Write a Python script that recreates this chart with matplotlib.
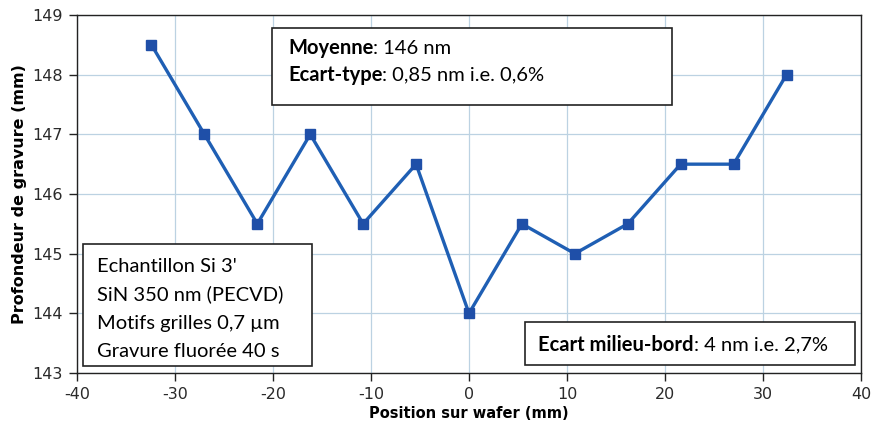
import matplotlib
matplotlib.use("Agg")
import matplotlib.pyplot as plt

plt.rcParams['font.family'] = ['Lato', 'DejaVu Sans']
plt.rcParams['axes.unicode_minus'] = False

positions = [-32.4, -27.0, -21.6, -16.2, -10.8, -5.4, 0.0, 5.4, 10.8, 16.2, 21.6, 27.0, 32.4]
depths = [148.5, 147.0, 145.5, 147.0, 145.5, 146.5, 144.0, 145.5, 145.0, 145.5, 146.5, 146.5, 148.0]
xticks = [-40, -30, -20, -10, 0, 10, 20, 30, 40]
yticks = [143, 144, 145, 146, 147, 148, 149]

fig = plt.figure(figsize=(8.73, 4.28), dpi=100)
ax = fig.add_axes([77/873, 1 - 373/428, (861-77)/873, (373-15)/428])
ax.set_xlim(-40, 40)
ax.set_ylim(143, 149)
ax.set_xticks(xticks)
ax.set_yticks(yticks)
ax.grid(True, color='#bcd2e2', linewidth=0.9)
ax.set_axisbelow(True)
for s in ax.spines.values():
    s.set_color('#222222')
    s.set_linewidth(1.0)
ax.tick_params(direction='out', length=6, width=1, pad=4, colors='#222222')
for lab in ax.get_xticklabels() + ax.get_yticklabels():
    lab.set_fontfamily('DejaVu Sans')
    lab.set_fontsize(11.5)
    lab.set_color('#2a2a2a')
ax.plot(positions, depths, color='#1f5fb4', linewidth=2.4, marker='s', markersize=7,
        markerfacecolor='#1f4fa8', markeredgecolor='#1f4fa8')
ax.set_xlabel('Position sur wafer (mm)', fontsize=10.5, fontweight='bold',
              family='DejaVu Sans', labelpad=3)
ax.set_ylabel('Profondeur de gravure (mm)', fontsize=11.5, fontweight='bold',
              family='DejaVu Sans', labelpad=4)

FS = 14.5

def box(x0, y0, x1, y1):
    r = plt.Rectangle((x0/873, 1 - y1/428), (x1-x0)/873, (y1-y0)/428, transform=fig.transFigure,
                      facecolor='white', edgecolor='#222222', linewidth=1.2, zorder=5)
    fig.add_artist(r)

def bold_then_normal(x, y, bold, normal):
    t = fig.text(x/873, 1 - y/428, bold, fontsize=FS, fontweight='bold', va='center', zorder=6)
    fig.canvas.draw()
    bb = t.get_window_extent()
    fig.text(bb.x1/873, 1 - y/428, normal, fontsize=FS, va='center', zorder=6)

box(272, 28, 672, 105)
bold_then_normal(288, 48, 'Moyenne', ': 146 nm')
bold_then_normal(288, 75, 'Ecart-type', ': 0,85 nm i.e. 0,6%')

box(83, 244, 312, 366)
lines = ["Echantillon Si 3'", "SiN 350 nm (PECVD)", "Motifs grilles 0,7 µm", "Gravure fluorée 40 s"]
for i, l in enumerate(lines):
    fig.text(97/873, 1 - (266 + i*28.5)/428, l, fontsize=FS, va='center', zorder=6)

box(525, 322, 855, 365)
bold_then_normal(538, 345, 'Ecart milieu-bord', ': 4 nm i.e. 2,7%')

fig.savefig('out.png', dpi=100)
